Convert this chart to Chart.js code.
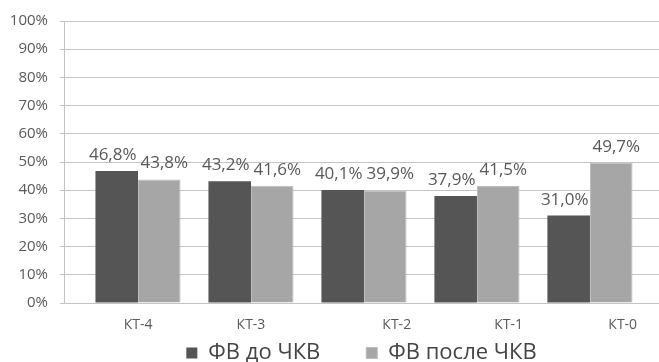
<!DOCTYPE html>
<html>
<head>
<meta charset="utf-8">
<script src="https://cdn.jsdelivr.net/npm/chart.js@4/dist/chart.umd.min.js"></script>
<style>
  html, body { margin: 0; padding: 0; background: #ffffff; }
  canvas { display: block; }
</style>
</head>
<body>
<canvas id="chart" width="659" height="362"></canvas>
<script>
// Ejection fraction by group, before and after PCI
const categories = ['КТ-4', 'КТ-3', 'КТ-2', 'КТ-1', 'КТ-0'];
const efBefore = [46.8, 43.2, 40.1, 37.9, 31.0];
const efAfter = [43.8, 41.6, 39.9, 41.5, 49.7];
const seriesNames = ['ФВ до ЧКВ', 'ФВ после ЧКВ'];
const yTickValues = [0, 10, 20, 30, 40, 50, 60, 70, 80, 90, 100];

// Layout tweaks: caption nudges along the category axis (in category units)
const captionNudge = [0, 0, 0.29, 0.28, 0.29];
const X_MIN = -0.655;
const X_MAX = 4.611;

const FONT = "'Open Sans', 'DejaVu Sans', sans-serif";
const TEXT = '#595959';

const toPoints = arr => arr.map((v, i) => ({ x: i, y: v }));
const fmt = v => v.toFixed(1).replace('.', ',') + '%';

// Value captions above each bar
const valueLabels = {
  id: 'valueLabels',
  afterDatasetsDraw(chart) {
    const ctx = chart.ctx;
    ctx.save();
    ctx.font = '17px ' + FONT;
    ctx.fillStyle = TEXT;
    ctx.textAlign = 'center';
    ctx.textBaseline = 'alphabetic';
    chart.data.datasets.forEach((ds, di) => {
      const shift = di === 0 ? -4 : 5;
      chart.getDatasetMeta(di).data.forEach((bar, i) => {
        ctx.fillText(fmt(ds.data[i].y), bar.x + shift, bar.y - 11);
      });
    });
    ctx.restore();
  }
};

new Chart(document.getElementById('chart'), {
  type: 'bar',
  data: {
    datasets: [
      {
        label: seriesNames[0],
        data: toPoints(efBefore),
        backgroundColor: '#555555',
        borderWidth: 0
      },
      {
        label: seriesNames[1],
        data: toPoints(efAfter),
        backgroundColor: '#a6a6a6',
        borderColor: '#bdbdbd',
        borderWidth: 1
      }
    ]
  },
  options: {
    responsive: false,
    animation: false,
    devicePixelRatio: 1,
    categoryPercentage: 0.761,
    barPercentage: 1,
    layout: { padding: { top: 21, right: 0, bottom: -12, left: 0 } },
    scales: {
      x: {
        type: 'linear',
        bounds: 'data',
        min: X_MIN,
        max: X_MAX,
        offset: false,
        grid: { display: false, drawTicks: false, offset: false },
        border: { display: false },
        afterBuildTicks(scale) {
          scale.ticks = categories.map((c, i) => ({ value: i + captionNudge[i] }));
        },
        afterFit(scale) { scale.height = 33; },
        ticks: {
          autoSkip: false,
          maxRotation: 0,
          padding: 14,
          color: TEXT,
          font: { family: FONT, size: 14 },
          callback: (v, i) => categories[i]
        }
      },
      y: {
        min: 0,
        max: 100,
        afterBuildTicks(scale) {
          scale.ticks = yTickValues.map(v => ({ value: v }));
        },
        afterFit(scale) { scale.width = 64; },
        grid: { color: '#c4c4c4', lineWidth: 1, tickLength: 4 },
        border: { display: true, color: '#c4c4c4', width: 1 },
        ticks: {
          padding: 12,
          color: TEXT,
          font: { family: FONT, size: 15 },
          callback: v => v + '%'
        }
      }
    },
    plugins: {
      legend: {
        position: 'bottom',
        fullSize: false,
        labels: {
          boxWidth: 11,
          boxHeight: 11,
          padding: 6,
          color: '#444444',
          font: { family: FONT, size: 22 },
          // widen the gap after every entry but the last
          generateLabels(chart) {
            const items = Chart.defaults.plugins.legend.labels.generateLabels(chart);
            items.forEach((it, i) => {
              if (i < items.length - 1) it.text += '       ';
            });
            return items;
          }
        }
      },
      tooltip: { enabled: false }
    }
  },
  plugins: [valueLabels]
});
</script>
</body>
</html>
